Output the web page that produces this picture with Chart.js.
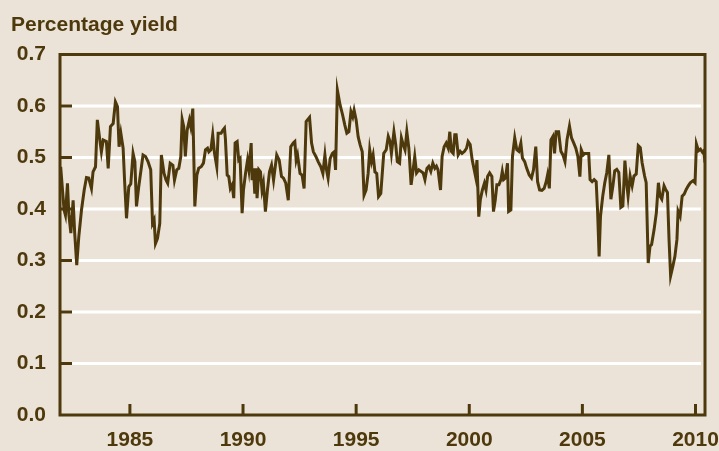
<!DOCTYPE html>
<html>
<head>
<meta charset="utf-8">
<script src="https://cdn.jsdelivr.net/npm/chart.js@4.4.1/dist/chart.umd.min.js"></script>
<style>
  html, body { margin: 0; padding: 0; background: #ebe3d7; }
  #wrap { width: 719px; height: 451px; }
</style>
</head>
<body>
<div id="wrap"><canvas id="yieldChart" width="719" height="451"></canvas></div>
<script>
// monthly readings, decimal years
const dates = [
    1981.94, 1982.09, 1982.15, 1982.24, 1982.30, 1982.39, 1982.49, 1982.56, 1982.65, 1982.74, 1982.86, 1982.98,
    1983.08, 1983.18, 1983.30, 1983.37, 1983.48, 1983.56, 1983.67, 1983.74, 1983.82, 1983.96,
    1984.04, 1984.14, 1984.26, 1984.36, 1984.45, 1984.52, 1984.60, 1984.70, 1984.77, 1984.85, 1984.95,
    1985.04, 1985.14, 1985.22, 1985.29, 1985.39, 1985.51, 1985.58, 1985.69, 1985.80, 1985.92,
    1986.00, 1986.07, 1986.13, 1986.22, 1986.32, 1986.39, 1986.51,
    1986.60, 1986.67, 1986.78, 1986.90, 1986.97, 1987.07, 1987.16, 1987.25, 1987.31, 1987.38, 1987.45, 1987.53,
    1987.63, 1987.69, 1987.78, 1987.87, 1987.96, 1988.04, 1988.15, 1988.25, 1988.34, 1988.43, 1988.49, 1988.58,
    1988.66, 1988.74, 1988.84, 1988.90, 1989.03, 1989.11, 1989.18, 1989.22, 1989.30, 1989.37, 1989.44, 1989.52,
    1989.59, 1989.65, 1989.74, 1989.81, 1989.87, 1989.96, 1990.02, 1990.11, 1990.20, 1990.26, 1990.36, 1990.40,
    1990.46, 1990.52, 1990.58, 1990.62, 1990.70, 1990.77, 1990.84, 1990.90, 1990.99, 1991.08, 1991.17, 1991.26,
    1991.35,
    1991.49, 1991.60, 1991.70, 1991.79, 1991.89, 1992.00, 1992.11, 1992.22, 1992.29, 1992.35, 1992.41, 1992.52,
    1992.61, 1992.70, 1992.79, 1992.94, 1993.03, 1993.11, 1993.22, 1993.32, 1993.44, 1993.53, 1993.62, 1993.69,
    1993.76, 1993.85, 1993.95, 1994.03, 1994.09, 1994.17, 1994.29, 1994.40, 1994.50, 1994.59, 1994.68, 1994.77,
    1994.85, 1994.91, 1995.00, 1995.09, 1995.18, 1995.27, 1995.35, 1995.44, 1995.53, 1995.60, 1995.68, 1995.75,
    1995.83, 1995.91, 1995.99, 1996.09,
    1996.22, 1996.33, 1996.42, 1996.50, 1996.56, 1996.67, 1996.75, 1996.82, 1996.92, 1997.00, 1997.08, 1997.16,
    1997.24, 1997.33, 1997.43, 1997.51, 1997.59, 1997.67, 1997.77, 1997.87, 1997.96, 1998.04, 1998.13, 1998.21,
    1998.30, 1998.39, 1998.48, 1998.55, 1998.62, 1998.73, 1998.80, 1998.89, 1998.98, 1999.07, 1999.14, 1999.21,
    1999.29, 1999.36, 1999.42, 1999.51, 1999.60, 1999.68, 1999.79, 1999.88, 1999.95, 2000.04, 2000.13, 2000.22,
    2000.28, 2000.34, 2000.42, 2000.49, 2000.58, 2000.67, 2000.74, 2000.81, 2000.90,
    2001.00, 2001.07, 2001.15, 2001.22, 2001.31, 2001.40, 2001.46, 2001.52, 2001.60, 2001.69, 2001.74, 2001.84,
    2001.91, 2002.01, 2002.10, 2002.19, 2002.28, 2002.35, 2002.45, 2002.54, 2002.65, 2002.75, 2002.84, 2002.94,
    2003.02, 2003.11, 2003.21, 2003.31, 2003.40, 2003.46, 2003.54, 2003.61, 2003.70, 2003.77, 2003.84, 2003.95,
    2004.05, 2004.14, 2004.23, 2004.32, 2004.43, 2004.52, 2004.62, 2004.71, 2004.80, 2004.89, 2004.95, 2005.04,
    2005.11, 2005.19, 2005.28, 2005.34, 2005.43, 2005.52, 2005.61, 2005.67, 2005.74,
    2005.80, 2005.90, 2005.99, 2006.08, 2006.17, 2006.26, 2006.35, 2006.43, 2006.52, 2006.61, 2006.70, 2006.79,
    2006.88, 2006.97, 2007.02, 2007.11, 2007.20, 2007.28, 2007.38, 2007.47, 2007.56, 2007.64, 2007.75, 2007.82,
    2007.91, 2007.99, 2008.06, 2008.17, 2008.27, 2008.36, 2008.43, 2008.51, 2008.61, 2008.68, 2008.76, 2008.83,
    2008.90, 2009.00, 2009.09, 2009.18, 2009.23, 2009.32, 2009.41, 2009.50, 2009.59, 2009.68, 2009.77, 2009.89,
    2009.98, 2010.04, 2010.13, 2010.22, 2010.31, 2010.37, 2010.42
];

const yields = [
    0.482, 0.398, 0.388, 0.450, 0.390, 0.353, 0.417, 0.353, 0.291, 0.346, 0.398, 0.437,
    0.461, 0.460, 0.440, 0.472, 0.482, 0.573, 0.534, 0.511, 0.534, 0.531,
    0.479, 0.560, 0.566, 0.608, 0.599, 0.521, 0.547, 0.518, 0.450, 0.382, 0.443,
    0.449, 0.508, 0.492, 0.405, 0.443, 0.482, 0.505, 0.502, 0.492, 0.476,
    0.372, 0.379, 0.333, 0.343, 0.372, 0.505, 0.469,
    0.456, 0.450, 0.489, 0.485, 0.456, 0.476, 0.479, 0.502, 0.574, 0.560, 0.502, 0.553,
    0.573, 0.560, 0.595, 0.405, 0.466, 0.479, 0.482, 0.489, 0.515, 0.518, 0.511, 0.515,
    0.544, 0.508, 0.482, 0.547, 0.547, 0.553, 0.557, 0.537, 0.466, 0.463, 0.440, 0.447,
    0.421, 0.528, 0.531, 0.495, 0.498, 0.392, 0.437, 0.469, 0.495, 0.476, 0.528, 0.456,
    0.479, 0.430, 0.479, 0.421, 0.476, 0.472, 0.437, 0.450, 0.395, 0.437, 0.472, 0.485,
    0.456,
    0.505, 0.495, 0.463, 0.460, 0.450, 0.417, 0.521, 0.528, 0.531, 0.495, 0.505, 0.469,
    0.466, 0.440, 0.570, 0.578, 0.528, 0.511, 0.502, 0.492, 0.482, 0.469, 0.505, 0.476,
    0.460, 0.498, 0.508, 0.511, 0.476, 0.631, 0.602, 0.583, 0.563, 0.547, 0.550, 0.589,
    0.579, 0.592, 0.573, 0.540, 0.524, 0.511, 0.427, 0.437, 0.469, 0.515, 0.492, 0.505,
    0.472, 0.469, 0.424, 0.430,
    0.508, 0.515, 0.541, 0.531, 0.508, 0.550, 0.525, 0.492, 0.489, 0.538, 0.525, 0.515,
    0.550, 0.518, 0.447, 0.473, 0.502, 0.470, 0.476, 0.473, 0.470, 0.457, 0.479, 0.483,
    0.473, 0.489, 0.479, 0.483, 0.476, 0.437, 0.502, 0.521, 0.528, 0.518, 0.550, 0.512,
    0.508, 0.544, 0.544, 0.505, 0.512, 0.508, 0.512, 0.518, 0.531, 0.525, 0.495, 0.476,
    0.463, 0.495, 0.385, 0.418, 0.437, 0.450, 0.437, 0.463, 0.470,
    0.463, 0.395, 0.418, 0.447, 0.447, 0.457, 0.473, 0.457, 0.460, 0.489, 0.395, 0.398,
    0.502, 0.538, 0.515, 0.512, 0.528, 0.499, 0.492, 0.479, 0.466, 0.460, 0.476, 0.521,
    0.453, 0.437, 0.436, 0.440, 0.453, 0.466, 0.440, 0.534, 0.541, 0.508, 0.550, 0.550,
    0.512, 0.505, 0.492, 0.534, 0.561, 0.538, 0.528, 0.518, 0.502, 0.463, 0.515, 0.505,
    0.508, 0.508, 0.508, 0.457, 0.453, 0.457, 0.453, 0.398, 0.308,
    0.386, 0.425, 0.451, 0.471, 0.505, 0.419, 0.445, 0.474, 0.477, 0.471, 0.403, 0.406,
    0.494, 0.445, 0.425, 0.464, 0.445, 0.464, 0.468, 0.523, 0.519, 0.490, 0.464, 0.451,
    0.295, 0.328, 0.331, 0.360, 0.393, 0.451, 0.425, 0.419, 0.445, 0.438, 0.432, 0.341,
    0.270, 0.289, 0.308, 0.341, 0.396, 0.386, 0.425, 0.429, 0.438, 0.445, 0.451, 0.455,
    0.451, 0.526, 0.513, 0.516, 0.510, 0.513, 0.490
];

const yearTicks = [1985, 1990, 1995, 2000, 2005, 2010];
const yieldTicks = [0.0, 0.1, 0.2, 0.3, 0.4, 0.5, 0.6, 0.7];

const INK = '#4d390b';
const PAPER = '#ebe3d7';
const FONT = '"Liberation Sans", Arial, sans-serif';

// background, white grid, frame and inward ticks
const framePlugin = {
    id: 'frame',
    beforeDraw(chart) {
        const ctx = chart.ctx;
        ctx.save();
        ctx.fillStyle = PAPER;
        ctx.fillRect(0, 0, chart.width, chart.height);
        ctx.fillStyle = INK;
        ctx.font = 'bold 21px ' + FONT;
        ctx.textBaseline = 'alphabetic';
        ctx.fillText('Percentage yield', 11, 31);
        ctx.restore();
    },
    beforeDatasetsDraw(chart) {
        const { ctx, chartArea: a, scales: { y } } = chart;
        ctx.save();
        ctx.strokeStyle = '#ffffff';
        ctx.lineWidth = 3;
        yieldTicks.slice(1, -1).forEach(v => {
            const py = y.getPixelForValue(v);
            ctx.beginPath();
            ctx.moveTo(a.left, py);
            ctx.lineTo(a.right - 4, py);
            ctx.stroke();
        });
        ctx.restore();
    },
    afterDatasetsDraw(chart) {
        const { ctx, chartArea: a, scales: { x, y } } = chart;
        ctx.save();
        ctx.strokeStyle = INK;
        ctx.lineWidth = 3;
        ctx.strokeRect(a.left, a.top, a.right - a.left, a.bottom - a.top);
        yieldTicks.slice(1, -1).forEach(v => {
            const py = y.getPixelForValue(v);
            ctx.beginPath();
            ctx.moveTo(a.left, py);
            ctx.lineTo(a.left + 12, py);
            ctx.stroke();
        });
        yearTicks.forEach(v => {
            const px = x.getPixelForValue(v);
            ctx.beginPath();
            ctx.moveTo(px, a.bottom);
            ctx.lineTo(px, a.bottom - 11);
            ctx.stroke();
        });
        ctx.restore();
    }
};

new Chart(document.getElementById('yieldChart'), {
    type: 'line',
    data: {
        datasets: [{
            data: dates.map((d, i) => ({ x: d, y: yields[i] })),
            borderColor: INK,
            borderWidth: 3,
            pointRadius: 0,
            tension: 0,
            fill: false,
        }]
    },
    options: {
        responsive: false,
        animation: false,
        events: [],
        layout: {
            padding: { top: 54.5, right: 14, bottom: 0, left: 0 }
        },
        scales: {
            x: {
                type: 'linear',
                min: 1981.91,
                max: 2010.42,
                grid: { display: false, drawTicks: false },
                border: { display: false },
                afterBuildTicks(scale) {
                    scale.ticks = yearTicks.map(v => ({ value: v }));
                },
                afterFit(scale) {
                    scale.height = 36;
                    scale.paddingLeft = 0;
                    scale.paddingRight = 0;
                },
                ticks: {
                    color: INK,
                    padding: 13,
                    maxRotation: 0,
                    font: { family: FONT, size: 21, weight: 'bold' },
                    callback: v => String(v),
                }
            },
            y: {
                min: 0,
                max: 0.7,
                grid: { display: false, drawTicks: false },
                border: { display: false },
                afterBuildTicks(scale) {
                    scale.ticks = yieldTicks.map(v => ({ value: v }));
                },
                afterFit(scale) {
                    scale.width = 60;
                    scale.paddingTop = 0;
                    scale.paddingBottom = 0;
                },
                ticks: {
                    color: INK,
                    padding: 14,
                    font: { family: FONT, size: 21, weight: 'bold' },
                    callback: v => v.toFixed(1),
                }
            }
        },
        plugins: {
            legend: { display: false },
            tooltip: { enabled: false },
            title: { display: false }
        }
    },
    plugins: [framePlugin]
});
</script>
</body>
</html>
